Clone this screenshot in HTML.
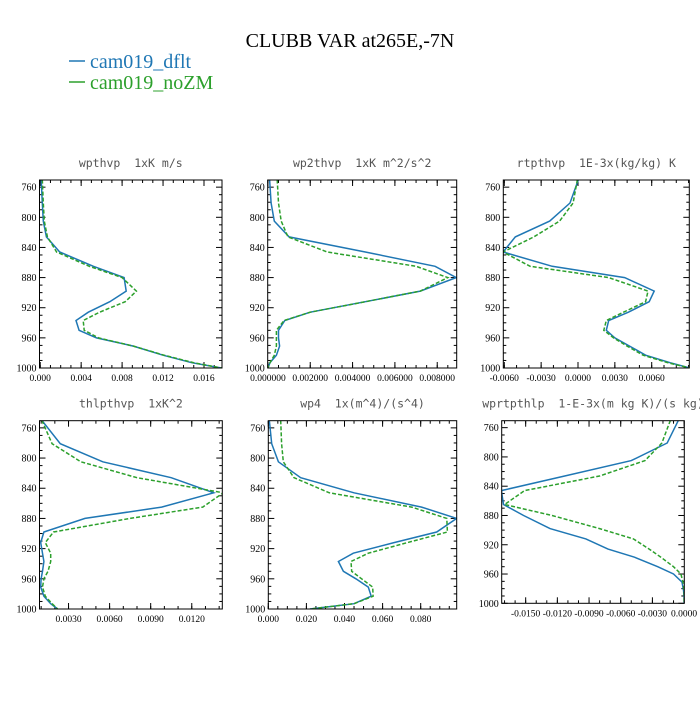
<!DOCTYPE html>
<html><head><meta charset="utf-8"><style>
body{margin:0;background:#fff;}
svg text{font-family:"Liberation Serif",serif;}
</style></head><body>
<svg id="chart" width="700" height="700" viewBox="0 0 700 700" xmlns="http://www.w3.org/2000/svg">
<rect width="700" height="700" fill="#fff"/>
<text x="350" y="47" font-size="20" text-anchor="middle" fill="#000">CLUBB VAR at265E,-7N</text>
<g>
<line x1="69" y1="61" x2="85" y2="61" stroke="#1f77b4" stroke-width="1.5"/>
<text x="90" y="68" font-size="20" fill="#1f77b4">cam019_dflt</text>
<line x1="69" y1="82" x2="85" y2="82" stroke="#2ca02c" stroke-width="1.5"/>
<text x="90" y="89" font-size="20" fill="#2ca02c">cam019_noZM</text>
</g>
<g id="panels"></g>
</svg>
<script>
const levels = [750,781,805,826,846,865,880,898,912,926,937,950,960,971,983,993,1000];
const wpthvpDflt = [0.0001,0.0002,0.0003,0.0006,0.0019,0.0052,0.0082,0.0084,0.0068,0.0047,0.0035,0.0038,0.0055,0.0091,0.012,0.0148,0.0177];
const wpthvpNoZM = [0.0002,0.0003,0.0004,0.0007,0.0016,0.0048,0.008,0.0094,0.0083,0.0058,0.0042,0.0043,0.0057,0.0091,0.0121,0.015,0.0177];
const wp2thvpDflt = [0.00008,0.00015,0.0003,0.001,0.0046,0.0079,0.0089,0.0072,0.0046,0.002,0.0008,0.0005,0.0005,0.00055,0.0004,0.0001,0];
const wp2thvpNoZM = [0.00044,0.0005,0.00063,0.00095,0.0028,0.007,0.0085,0.0072,0.0046,0.002,0.00076,0.0004,0.0004,0.0004,0.0003,0.0001,0];
const rtpthvpDflt = [0.00003,-0.00065,-0.0023,-0.0051,-0.0061,-0.0021,0.0038,0.0062,0.0058,0.0041,0.0025,0.0023,0.003,0.0042,0.0055,0.0075,0.0091];
const rtpthvpNoZM = [-0.00005,-0.0004,-0.0015,-0.0036,-0.0061,-0.0039,0.0025,0.0057,0.0055,0.0037,0.0023,0.0021,0.0029,0.004,0.0053,0.0073,0.0091];
const thlpthvpDflt = [0.00105,0.0024,0.0055,0.0105,0.0136,0.0098,0.0042,0.0012,0.00097,0.0011,0.0012,0.0011,0.001,0.00097,0.0012,0.0017,0.0022];
const thlpthvpNoZM = [0.00105,0.0018,0.0039,0.008,0.0143,0.0128,0.0075,0.0019,0.0013,0.0017,0.0017,0.0015,0.0012,0.0011,0.0013,0.0018,0.0022];
const wp4Dflt = [0.0005,0.0018,0.0053,0.017,0.045,0.0805,0.0989,0.0884,0.066,0.0446,0.0368,0.0394,0.046,0.0525,0.054,0.045,0.0219];
const wp4NoZM = [0.0065,0.007,0.0079,0.0135,0.032,0.0753,0.0937,0.094,0.073,0.0525,0.0434,0.0438,0.049,0.0548,0.055,0.045,0.0219];
const wprtpthlpDflt = [-0.00054,-0.0016,-0.005,-0.0113,-0.0173,-0.0171,-0.0152,-0.0127,-0.0093,-0.0072,-0.0047,-0.0025,-0.001,-0.0002,-0.00005,0,0];
const wprtpthlpNoZM = [-0.0013,-0.0021,-0.0037,-0.008,-0.0151,-0.017,-0.0125,-0.008,-0.0048,-0.0033,-0.0022,-0.001,-0.0003,-0.0001,0,0,0];
const yTickLabels = ["760","800","840","880","920","960","1000"];
const xTicks1 = ["0.000","0.004","0.008","0.012","0.016"];
const xTicks2 = ["0.000000","0.002000","0.004000","0.006000","0.008000"];
const xTicks3 = ["-0.0060","-0.0030","0.0000","0.0030","0.0060"];
const xTicks4 = ["0.0030","0.0060","0.0090","0.0120"];
const xTicks5 = ["0.000","0.020","0.040","0.060","0.080"];
const xTicks6 = ["-0.0150","-0.0120","-0.0090","-0.0060","-0.0030","0.0000"];

const panels = [
 {name:"wpthvp",title:"wpthvp  1xK m/s",L:39.5,R:222,T:180,B:368,xmin:-0.00007,xmax:0.01776,xt:xTicks1,minor:0.001,a:wpthvpDflt,b:wpthvpNoZM},
 {name:"wp2thvp",title:"wp2thvp  1xK m^2/s^2",L:267.7,R:456.7,T:180,B:368,xmin:-0.00001,xmax:0.00892,xt:xTicks2,minor:0.0005,a:wp2thvpDflt,b:wp2thvpNoZM},
 {name:"rtpthvp",title:"rtpthvp  1E-3x(kg/kg) K",L:503.3,R:689.3,T:180,B:368,xmin:-0.00608,xmax:0.00906,xt:xTicks3,minor:0.001,a:rtpthvpDflt,b:rtpthvpNoZM},
 {name:"thlpthvp",title:"thlpthvp  1xK^2",L:39.5,R:222.3,T:420.7,B:609,xmin:0.00088,xmax:0.01423,xt:xTicks4,minor:0.001,a:thlpthvpDflt,b:thlpthvpNoZM},
 {name:"wp4",title:"wp4  1x(m^4)/(s^4)",L:268.3,R:456.7,T:420.7,B:609,xmin:0,xmax:0.0989,xt:xTicks5,minor:0.005,a:wp4Dflt,b:wp4NoZM},
 {name:"wprtpthlp",title:"wprtpthlp  1-E-3x(m kg K)/(s kg)",L:501.7,R:684.3,T:420.7,B:603.3,xmin:-0.01727,xmax:0.00002,xt:xTicks6,minor:0.001,a:wprtpthlpDflt,b:wprtpthlpNoZM}
];
const NS="http://www.w3.org/2000/svg";
const root=document.getElementById("panels");
function mk(tag,attrs,parent){const e=document.createElementNS(NS,tag);for(const k in attrs)e.setAttribute(k,attrs[k]);parent.appendChild(e);return e;}
const PMIN=750.5, PMAX=1000;
panels.forEach(p=>{
  const g=mk("g",{},root);
  
  
  const x=v=>p.L+(v-p.xmin)/(p.xmax-p.xmin)*(p.R-p.L);
  const y=v=>p.T+(v-PMIN)/(PMAX-PMIN)*(p.B-p.T);
  const t=mk("text",{x:(p.L+p.R)/2,y:p.T-13,"font-size":"11.5","text-anchor":"middle",fill:"#555","font-family":"DejaVu Sans Mono, monospace"},g);
  
  
  t.setAttribute('style','font-family:"DejaVu Sans Mono",monospace;white-space:pre');
  t.textContent=p.title;
  // ticks y
  for(let v=760;v<=1000;v+=10){
    const major=(v-760)%40===0, len=major?6:3;
    mk("line",{x1:p.L,x2:p.L+len,y1:y(v),y2:y(v),stroke:"#000","stroke-width":1},g);
    mk("line",{x1:p.R,x2:p.R-len,y1:y(v),y2:y(v),stroke:"#000","stroke-width":1},g);
  }
  yTickLabels.forEach(s=>{
    const lt=mk("text",{x:p.L-3,y:y(+s)+3.5,"font-size":"10","text-anchor":"end",fill:"#000"},g);
    
    
    lt.textContent=s;
  });
  // minor x ticks
  const start=Math.ceil(p.xmin/p.minor);
  for(let i=start;i*p.minor<=p.xmax;i++){
    const xv=x(i*p.minor);
    mk("line",{x1:xv,x2:xv,y1:p.B,y2:p.B-3,stroke:"#000","stroke-width":1},g);
    mk("line",{x1:xv,x2:xv,y1:p.T,y2:p.T+3,stroke:"#000","stroke-width":1},g);
  }
  p.xt.forEach(s=>{
    const xv=x(parseFloat(s));
    mk("line",{x1:xv,x2:xv,y1:p.B,y2:p.B-6,stroke:"#000","stroke-width":1},g);
    mk("line",{x1:xv,x2:xv,y1:p.T,y2:p.T+6,stroke:"#000","stroke-width":1},g);
    const lt=mk("text",{x:xv,y:p.B+13,"font-size":"9.5","text-anchor":"middle",fill:"#000"},g);
    
    
    lt.textContent=s;
  });
  const series=[[p.a,"#1f77b4",""],[p.b,"#2ca02c","4,2"]];
  const cp=mk("clipPath",{id:"cp-"+p.name},g);
  mk("rect",{x:p.L,y:p.T,width:p.R-p.L,height:p.B-p.T},cp);
  series.forEach((s,si)=>{
    const pts=levels.map((lv,i)=>x(s[0][i]).toFixed(1)+","+y(lv).toFixed(1)).join(" ");
    const pl=mk("polyline",{points:pts,fill:"none",stroke:s[1],"stroke-width":1.5,"stroke-dasharray":s[2],"clip-path":"url(#cp-"+p.name+")"},g);
    
    
  });
  const fr=mk("rect",{x:p.L,y:p.T,width:p.R-p.L,height:p.B-p.T,fill:"none",stroke:"#000","stroke-width":1},g);
  
  
});
</script>
</body></html>
